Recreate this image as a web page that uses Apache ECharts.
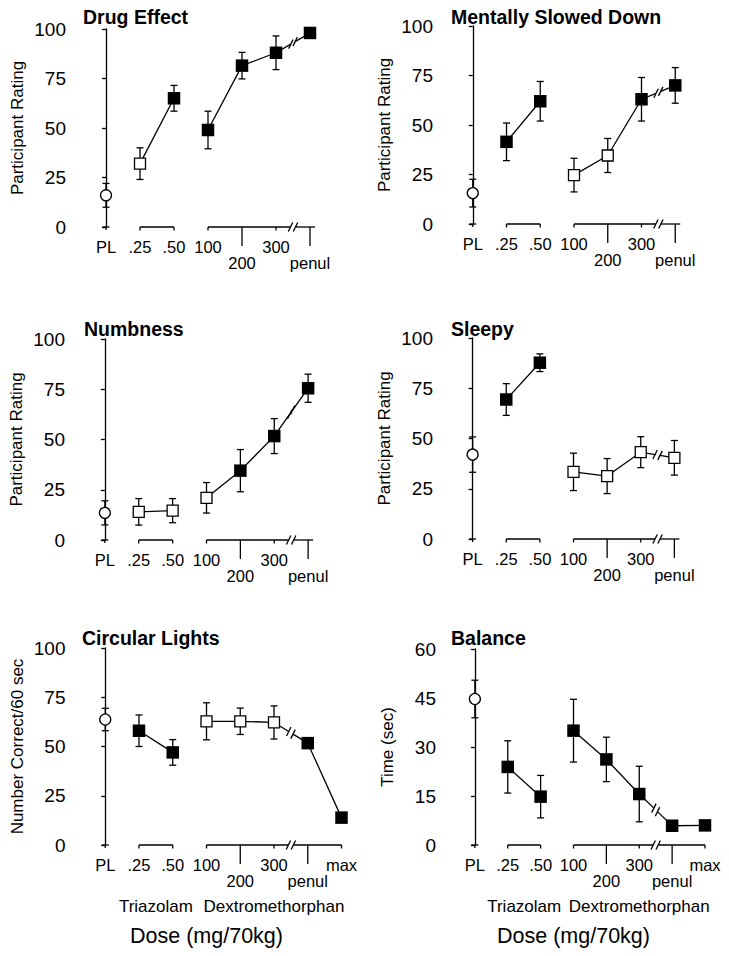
<!DOCTYPE html>
<html><head><meta charset="utf-8">
<script src="https://cdn.jsdelivr.net/npm/echarts@6/dist/echarts.min.js"></script>
<style>html,body{margin:0;padding:0;background:#fff}#c{width:729px;height:956px}</style>
</head><body><div id="c"></div>
<script>
// ---- data ----
const doseLabels = ['PL', '.25', '.50', '100', '200', '300', 'penul', 'max'];
const doseIndex = [0, 1, 2, 3, 4, 5, 6, 7];
const doseGroups = [[0], [1, 2], [3, 4, 5], [6, 7]];
const staggeredLabels = ['200', 'penul'];

const drugEffectMean = [16, 32, 65, 49, 81.5, 88, 98];
const drugEffectErr  = [6, 8, 6.5, 9.5, 6.7, 8.5, 1];
const drugEffectSig  = [0, 0, 1, 1, 1, 1, 1];

const mentallyMean = [15.6, 41.5, 62, 24.7, 34.6, 63, 70];
const mentallyErr  = [7, 9.5, 10, 8.5, 8.6, 11, 9];
const mentallySig  = [0, 1, 1, 0, 0, 1, 1];

const numbnessMean = [13.5, 14, 14.6, 21, 34.5, 51.7, 75.5];
const numbnessErr  = [6, 6.6, 6, 7.6, 10.5, 8.7, 7];
const numbnessSig  = [0, 0, 0, 0, 1, 1, 1];

const sleepyMean = [42, 69.4, 87.7, 33.4, 31.3, 43.2, 40.4];
const sleepyErr  = [8.8, 7.9, 4.4, 9.3, 8.7, 7.7, 8.6];
const sleepySig  = [0, 1, 1, 0, 0, 0, 0];

const lightsMean = [63.7, 58, 47, 62.8, 62.8, 62.2, 51.7, 13.9];
const lightsErr  = [5.7, 8, 6.5, 9.4, 6.7, 8.4, 1.5, 1];
const lightsSig  = [0, 1, 1, 0, 0, 0, 1, 1];

const balanceMean = [44.7, 23.9, 14.8, 35, 26.2, 15.6, 5.9, 6.0];
const balanceErr  = [5.75, 8, 6.5, 9.6, 6.8, 8.5, 0.5, 0.5];
const balanceSig  = [0, 1, 1, 1, 1, 1, 1, 1];

const ratingRange = [0, 100, 25];
const balanceRange = [0, 60, 15];

// ---- layout ----
const FONT = '"Liberation Sans", Arial, Helvetica, sans-serif';
const panels = [
  {title: 'Drug Effect', mean: drugEffectMean, err: drugEffectErr, sig: drugEffectSig, yName: 'Participant Rating', range: ratingRange,
   grid: {left: 72, top: 29, width: 272, height: 198}, tpos: {left: 83, top: 7}, bottom: false},
  {title: 'Mentally Slowed Down', mean: mentallyMean, err: mentallyErr, sig: mentallySig, yName: 'Participant Rating', range: ratingRange,
   grid: {left: 439, top: 26, width: 270, height: 198}, tpos: {left: 451, top: 7}, bottom: false},
  {title: 'Numbness', mean: numbnessMean, err: numbnessErr, sig: numbnessSig, yName: 'Participant Rating', range: ratingRange,
   grid: {left: 71, top: 339, width: 271, height: 201}, tpos: {left: 84, top: 319}, bottom: false},
  {title: 'Sleepy', mean: sleepyMean, err: sleepyErr, sig: sleepySig, yName: 'Participant Rating', range: ratingRange,
   grid: {left: 439, top: 338, width: 269, height: 201}, tpos: {left: 451, top: 319}, bottom: false},
  {title: 'Circular Lights', mean: lightsMean, err: lightsErr, sig: lightsSig, yName: 'Number Correct/60 sec', range: ratingRange,
   grid: {left: 71.5, top: 648, width: 270, height: 197}, tpos: {left: 82, top: 628}, bottom: true},
  {title: 'Balance', mean: balanceMean, err: balanceErr, sig: balanceSig, yName: 'Time (sec)', range: balanceRange,
   grid: {left: 442, top: 649, width: 263, height: 196}, tpos: {left: 451, top: 628}, bottom: true}
];

const LW = 1.3;
const ln = (x1, y1, x2, y2) => ({type: 'line', shape: {x1, y1, x2, y2}, style: {stroke: '#000', lineWidth: LW}});

const option = {
  animation: false,
  backgroundColor: '#fff',
  title: [], grid: [], xAxis: [], yAxis: [], series: []
};

panels.forEach((p, k) => {
  const n = p.mean.length;
  option.title.push({text: p.title, left: p.tpos.left, top: p.tpos.top, padding: 0,
    textStyle: {fontFamily: FONT, fontSize: 19.5, fontWeight: 'bold', color: '#000'}});
  option.grid.push(Object.assign({containLabel: false}, p.grid));
  option.xAxis.push({
    gridIndex: k, type: 'value', min: -1, max: 7, interval: 1,
    axisLine: {show: false}, axisTick: {show: false}, splitLine: {show: false},
    axisLabel: {show: false},
    name: p.bottom ? 'Dose (mg/70kg)' : '',
    nameLocation: 'middle', nameGap: 80,
    nameTextStyle: {fontFamily: FONT, fontSize: 21.5, color: '#000'}
  });
  option.yAxis.push({
    gridIndex: k, type: 'value', min: p.range[0], max: p.range[1], interval: p.range[2],
    axisLine: {show: true, lineStyle: {color: '#000', width: LW}},
    axisTick: {show: true, inside: false, length: 4, lineStyle: {color: '#000', width: LW}},
    splitLine: {show: false},
    axisLabel: {margin: 6, fontFamily: FONT, fontSize: 19, color: '#000'},
    name: p.yName, nameLocation: 'middle', nameGap: 46,
    nameTextStyle: {fontFamily: FONT, fontSize: 17, color: '#000'}
  });

  // custom x axis (segmented, with break) + dose labels
  option.series.push({
    type: 'custom', xAxisIndex: k, yAxisIndex: k, z: 1, silent: true, clip: false,
    data: [[0, p.range[0]]],
    renderItem: (params, api) => {
      const y0 = p.range[0];
      const c = i => api.coord([i, y0]);
      const ch = [];
      const pl = c(doseIndex[0]);
      ch.push(ln(pl[0] - 3.5, pl[1], pl[0] + 3.5, pl[1]), ln(pl[0], pl[1], pl[0], pl[1] + 3));
      const a = c(doseIndex[1]), b = c(doseIndex[2]);
      ch.push(ln(a[0], a[1], b[0], b[1]), ln(a[0], a[1], a[0], a[1] + 3.5), ln(b[0], b[1], b[0], b[1] + 3.5));
      const d0 = c(doseIndex[3]);
      const dl = c(doseIndex[n - 1]);
      const mid = c((doseIndex[5] + doseIndex[6]) / 2);
      const ext = n === 7 ? 5 : 0;
      ch.push(ln(d0[0], d0[1], mid[0] - 2.5, mid[1]), ln(mid[0] + 2.5, mid[1], dl[0] + ext, dl[1]));
      ch.push(ln(mid[0] - 4.7, mid[1] + 4.5, mid[0] - 0.3, mid[1] - 4.5), ln(mid[0] + 0.3, mid[1] + 4.5, mid[0] + 4.7, mid[1] - 4.5));
      for (let i = 3; i < n; i++) {
        const q = c(doseIndex[i]);
        const long = staggeredLabels.includes(doseLabels[i]);
        ch.push(ln(q[0], q[1], q[0], q[1] + (long ? 19 : 3.5)));
      }
      const lf = {fontFamily: FONT, fontSize: 16.5, fill: '#000', align: 'center', verticalAlign: 'middle'};
      for (let i = 0; i < n; i++) {
        const q = c(doseIndex[i]);
        const low = staggeredLabels.includes(doseLabels[i]);
        ch.push({type: 'text', style: Object.assign({text: doseLabels[i], x: q[0], y: q[1] + (low ? 36 : 19.5)}, lf)});
      }
      if (p.bottom) {
        const t = c((doseIndex[1] + doseIndex[2]) / 2);
        const dx = c((doseIndex[3] + doseIndex[n - 1]) / 2);
        const tf = {fontFamily: FONT, fontSize: 17, fill: '#000', align: 'center', verticalAlign: 'middle'};
        ch.push({type: 'text', style: Object.assign({text: 'Triazolam', x: t[0], y: t[1] + 61}, tf)});
        ch.push({type: 'text', style: Object.assign({text: 'Dextromethorphan', x: dx[0], y: dx[1] + 61}, tf)});
      }
      return {type: 'group', children: ch};
    }
  });

  // error bars
  option.series.push({
    type: 'custom', xAxisIndex: k, yAxisIndex: k, z: 2, silent: true, clip: false,
    data: p.mean.map((m, i) => [doseIndex[i], m, p.err[i]]),
    renderItem: (params, api) => {
      const x = api.value(0), m = api.value(1), e = api.value(2);
      const t = api.coord([x, m + e]), b = api.coord([x, m - e]);
      const cw = 3.5;
      return {type: 'group', children: [
        ln(t[0], t[1], b[0], b[1]), ln(t[0] - cw, t[1], t[0] + cw, t[1]), ln(b[0] - cw, b[1], b[0] + cw, b[1])
      ]};
    }
  });

  // broken connection 300 -> penul
  option.series.push({
    type: 'custom', xAxisIndex: k, yAxisIndex: k, z: 3, silent: true, clip: false,
    data: [[doseIndex[5], p.mean[5], doseIndex[6], p.mean[6]]],
    renderItem: (params, api) => {
      const a = api.coord([api.value(0), api.value(1)]);
      const b = api.coord([api.value(2), api.value(3)]);
      const mx = (a[0] + b[0]) / 2, my = (a[1] + b[1]) / 2;
      const L = Math.hypot(b[0] - a[0], b[1] - a[1]);
      const ux = (b[0] - a[0]) / L, uy = (b[1] - a[1]) / L;
      const g = 2.5;
      const s1 = [mx - g * ux, my - g * uy], s2 = [mx + g * ux, my + g * uy];
      return {type: 'group', children: [
        ln(a[0], a[1], s1[0], s1[1]), ln(s2[0], s2[1], b[0], b[1]),
        ln(s1[0] - 2.2, s1[1] + 4.5, s1[0] + 2.2, s1[1] - 4.5),
        ln(s2[0] - 2.2, s2[1] + 4.5, s2[0] + 2.2, s2[1] - 4.5)
      ]};
    }
  });

  // connected groups with markers
  doseGroups.forEach(g => {
    const idx = g.filter(i => i < n);
    if (!idx.length) return;
    option.series.push({
      type: 'line', xAxisIndex: k, yAxisIndex: k, z: 5, silent: true,
      showSymbol: true, lineStyle: {color: '#000', width: LW},
      data: idx.map(i => {
        const filled = p.sig[i] === 1;
        return {
          value: [doseIndex[i], p.mean[i]],
          symbol: i === 0 ? 'circle' : 'rect',
          symbolSize: i === 0 ? 11 : (filled ? 12.5 : 11),
          itemStyle: {color: filled ? '#000' : '#fff', borderColor: '#000', borderWidth: filled ? 0 : LW, opacity: 1}
        };
      })
    });
  });
});

const chart = echarts.init(document.getElementById('c'), null, {renderer: 'svg', width: 729, height: 956});
chart.setOption(option);
</script>
</body></html>
